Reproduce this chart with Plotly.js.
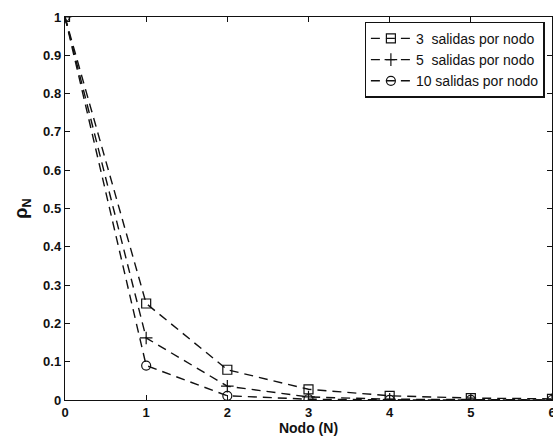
<!DOCTYPE html>
<html>
<head>
<meta charset="utf-8">
<script src="https://cdn.plot.ly/plotly-3.0.1.min.js"></script>
<style>html,body{margin:0;padding:0;background:#fff;}#chart{width:553px;height:441px;}</style>
</head>
<body>
<div id="chart"></div>
<script>
const nodes = [0, 1, 2, 3, 4, 5, 6];
const s3 = [1.0, 0.252, 0.079, 0.028, 0.011, 0.005, 0.003];
const s5 = [1.0, 0.162, 0.036, 0.008, 0.002, 0.0006, 0.0002];
const s10 = [1.0, 0.090, 0.011, 0.002, 0.0005, 0.0001, 0.0];
const names = ['3  salidas por nodo', '5  salidas por nodo', '10 salidas por nodo'];
const yTickVals = [0, 0.1, 0.2, 0.3, 0.4, 0.5, 0.6, 0.7, 0.8, 0.9, 1];
const yTickText = ['0', '0.1', '0.2', '0.3', '0.4', '0.5', '0.6', '0.7', '0.8', '0.9', '1'];

const lineStyle = {color: '#111', width: 1.4, dash: '9px,6px'};
const traces = [
  {x: nodes, y: s3, name: names[0], mode: 'lines+markers', line: lineStyle,
   marker: {symbol: 'square-open', size: 9, color: '#111', line: {width: 1.2}}},
  {x: nodes, y: s5, name: names[1], mode: 'lines+markers', line: lineStyle,
   marker: {symbol: 'cross-thin-open', size: 9, color: '#111', line: {width: 1.2}}},
  {x: nodes, y: s10, name: names[2], mode: 'lines+markers', line: lineStyle,
   marker: {symbol: 'circle-open', size: 9, color: '#111', line: {width: 1.2}}}
];

const fam = 'Liberation Sans, Arial, sans-serif';
const fnt = {family: fam, size: 13, color: '#111', weight: 'bold'};
const layout = {
  width: 553, height: 441,
  margin: {l: 65, r: 1, t: 17, b: 41},
  paper_bgcolor: '#fff', plot_bgcolor: '#fff',
  font: fnt,
  showlegend: true,
  legend: {
    x: 0.985, y: 0.988, xanchor: 'right', yanchor: 'top',
    bgcolor: '#fff', bordercolor: '#111', borderwidth: 1.2,
    font: {family: fam, size: 14, color: '#111', weight: 'normal'},
    itemwidth: 40, tracegroupgap: 0
  },
  xaxis: {
    range: [0, 6], tickvals: nodes, ticks: 'inside', ticklen: 5, tickcolor: '#111',
    showline: true, linecolor: '#111', linewidth: 1.2, mirror: 'ticks',
    showgrid: false, zeroline: false, tickfont: fnt, ticklabeloverflow: 'allow',
    title: {text: 'Nodo (N)', font: {family: fam, size: 14, color: '#111', weight: 'bold'}, standoff: 4}
  },
  yaxis: {
    range: [0, 1], ticks: 'inside', ticklen: 5, tickcolor: '#111',
    showline: true, linecolor: '#111', linewidth: 1.2, mirror: 'ticks',
    showgrid: false, zeroline: false, tickfont: fnt,
    tickvals: yTickVals, ticktext: yTickText,
    title: {text: 'ρ<sub>N</sub>', font: {family: fam, size: 18, color: '#111', weight: 'bold'}, standoff: 10}
  }
};
Plotly.newPlot('chart', traces, layout, {staticPlot: true, displayModeBar: false});
</script>
</body>
</html>
